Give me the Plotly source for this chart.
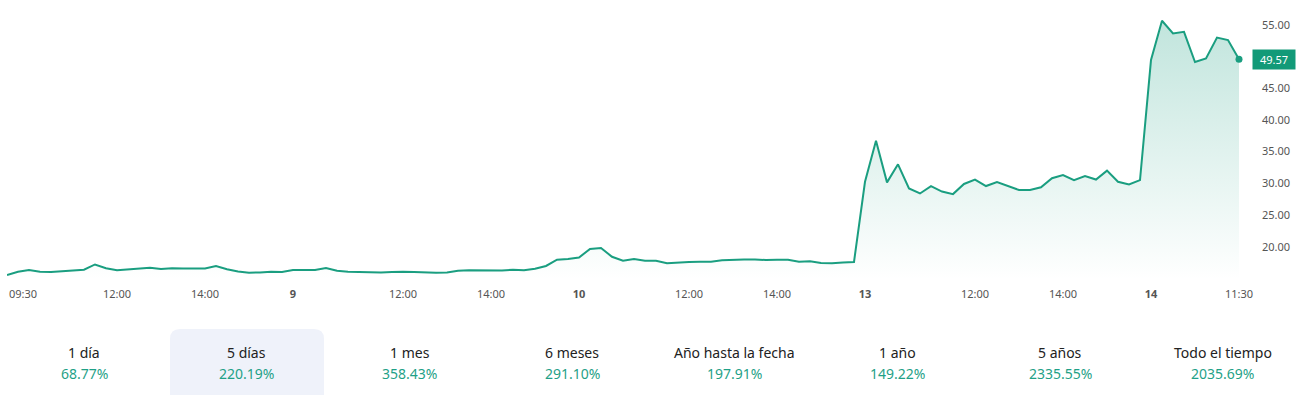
import plotly.graph_objects as go

# ---- data ----
day8 = [15.54, 16.06, 16.33, 16.06, 16.0, 16.1, 16.2, 16.37, 17.2, 16.6, 16.28, 16.45, 16.64,
        16.7, 16.5, 16.6, 16.55, 16.55, 16.55, 16.96, 16.45, 16.1, 15.9, 15.95, 16.06, 16.0]
day9 = [16.33, 16.33, 16.33, 16.64, 16.2, 16.06, 16.0, 15.95, 15.95, 16.0, 16.06, 16.0, 15.9,
        15.9, 15.95, 16.2, 16.28, 16.25, 16.25, 16.25, 16.37, 16.28, 16.53, 16.96, 17.95, 18.06]
day10 = [18.3, 19.64, 19.8, 18.42, 17.8, 18.06, 17.8, 17.77, 17.38, 17.54, 17.6, 17.64, 17.64,
         17.85, 17.96, 18.0, 18.0, 17.9, 17.96, 17.96, 17.64, 17.7, 17.43, 17.38, 17.5, 17.6]
day13 = [30.25, 36.7, 30.15, 33.0, 29.2, 28.4, 29.57, 28.7, 28.3, 29.9, 30.6, 29.57, 30.2,
         29.57, 28.94, 28.94, 29.37, 30.8, 31.3, 30.5, 31.15, 30.6, 32.0, 30.25, 29.84, 30.5]
day14 = [49.45, 55.65, 53.65, 53.9, 49.13, 49.7, 53.0, 52.6, 49.57]
prices = day8 + day9 + day10 + day13 + day14
idx = list(range(len(prices)))

tick_idx = [10, 18, 26, 36, 44, 52, 62, 70, 78, 88, 96, 104, 112]
tick_text = ["12:00", "14:00", "<b>9</b>", "12:00", "14:00", "<b>10</b>", "12:00", "14:00",
             "<b>13</b>", "12:00", "14:00", "<b>14</b>", "11:30"]
first_tick_idx = 0
first_tick_text = "09:30"
y_ticks = [20, 25, 30, 35, 40, 45, 50, 55]
y_tick_text = ["20.00", "25.00", "30.00", "35.00", "40.00", "45.00", "", "55.00"]

periods = ["1 día", "5 días", "1 mes", "6 meses", "Año hasta la fecha", "1 año", "5 años", "Todo el tiempo"]
returns = ["68.77%", "220.19%", "358.43%", "291.10%", "197.91%", "149.22%", "2335.55%", "2035.69%"]
selected = 1

GREEN = "#1a9e80"
W, H = 1301, 395
PL, PR, PT, PB = 7, 1239, 8, 280
Y0, Y1 = 14.75, 57.66

def px_x(px):
    return (px - PL) / (PR - PL)

def px_y(py):
    return (PB - py) / (PB - PT)

fig = go.Figure()
fig.add_trace(go.Scatter(
    x=idx, y=prices, mode="lines",
    line=dict(color=GREEN, width=2),
    fill="tozeroy",
    fillgradient=dict(type="vertical", start=Y0, stop=max(prices),
                      colorscale=[[0, "rgba(26,158,128,0)"], [1, "rgba(26,158,128,0.27)"]]),
    hoverinfo="skip", showlegend=False, cliponaxis=False,
))
fig.add_trace(go.Scatter(
    x=[idx[-1]], y=[prices[-1]], mode="markers",
    marker=dict(color=GREEN, size=7), showlegend=False, hoverinfo="skip", cliponaxis=False,
))

annotations = []
# first x tick label (left-aligned)
annotations.append(dict(x=first_tick_idx, y=px_y(293), xref="x", yref="paper", text=first_tick_text,
                        showarrow=False, xanchor="left", yanchor="middle",
                        font=dict(size=11, color="#555", family="Noto Sans")))
# last price label
annotations.append(dict(x=px_x(1274), y=prices[-1], xref="paper", yref="y",
                        text="%.2f" % prices[-1], showarrow=False, xanchor="center", yanchor="middle",
                        bgcolor="#129a78", borderpad=2, width=38,
                        font=dict(size=11, color="white", family="Noto Sans")))

shapes = []
col_w = W / 8
for i, (p, r) in enumerate(zip(periods, returns)):
    cx = col_w * i + col_w / 2 + 3
    if i == selected:
        x0, x1, y0, y1, rr = 170, 324, 329, 400, 10
        path = (f"M {px_x(x0 + rr)},{px_y(y0)} L {px_x(x1 - rr)},{px_y(y0)} "
                f"Q {px_x(x1)},{px_y(y0)} {px_x(x1)},{px_y(y0 + rr)} L {px_x(x1)},{px_y(y1)} "
                f"L {px_x(x0)},{px_y(y1)} L {px_x(x0)},{px_y(y0 + rr)} "
                f"Q {px_x(x0)},{px_y(y0)} {px_x(x0 + rr)},{px_y(y0)} Z")
        shapes.append(dict(type="path", path=path, xref="paper", yref="paper",
                           fillcolor="#eff2fa", line=dict(width=0), layer="below"))
    annotations.append(dict(x=px_x(cx), y=px_y(352), xref="paper", yref="paper", text=p,
                            showarrow=False, xanchor="center", yanchor="middle",
                            font=dict(size=14, color="#222", family="Noto Sans")))
    annotations.append(dict(x=px_x(cx), y=px_y(373), xref="paper", yref="paper", text=r,
                            showarrow=False, xanchor="center", yanchor="middle",
                            font=dict(size=14, color="#1fa187", family="Noto Sans")))

fig.update_layout(
    width=W, height=H,
    margin=dict(l=PL, r=W - PR, t=PT, b=H - PB),
    paper_bgcolor="white", plot_bgcolor="white",
    xaxis=dict(range=[0, len(prices) - 1], tickvals=tick_idx, ticktext=tick_text,
               showgrid=False, zeroline=False, showline=False, ticks="",
               tickfont=dict(size=11, color="#555", family="Noto Sans"), ticklabelstandoff=6),
    yaxis=dict(range=[Y0, Y1], side="right", tickvals=y_ticks, ticktext=y_tick_text,
               showgrid=False, zeroline=False, showline=False, ticks="",
               tickfont=dict(size=11, color="#555", family="Noto Sans"), ticklabelstandoff=22),
    annotations=annotations, shapes=shapes,
    font=dict(family="Noto Sans"),
)
fig.write_html("out.html")
